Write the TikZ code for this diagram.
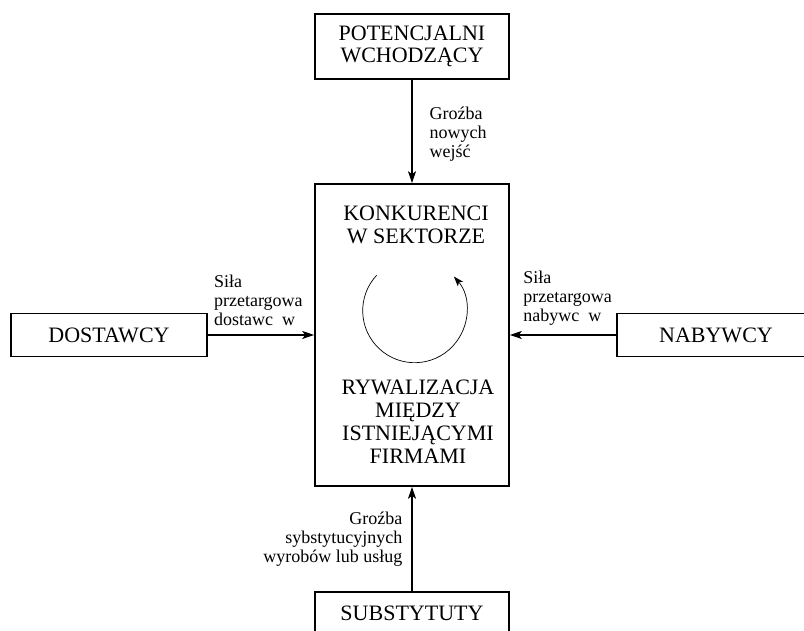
\documentclass[tikz,border=0pt]{standalone}
\usepackage{fontspec}
\setmainfont{Liberation Serif}
\usetikzlibrary{arrows.meta}

\tikzset{
  forcebox/.style={draw,line width=1.1pt,minimum width=194pt,minimum height=43pt,
    inner sep=0pt,align=center,font=\fontsize{22}{22.5}\selectfont},
  flow/.style={line width=1.1pt,-{Stealth[length=12pt,width=8pt,inset=3pt]}},
  lbl/.style={inner sep=0pt,font=\fontsize{18}{19}\selectfont}
}

\begin{document}
\begin{tikzpicture}[x=1pt,y=1pt]
  \useasboundingbox (0,0) rectangle (804,631);

  % the five forces
  \node[forcebox,minimum height=65pt] (pot) at (412,584.5) {POTENCJALNI\\WCHODZĄCY};
  \node[forcebox,minimum height=302pt,line width=1.6pt] (konk) at (412,296) {};
  \node[forcebox,minimum width=196pt] (dost) at (109,296) {DOSTAWCY};
  \node[forcebox,minimum width=198pt] (nab) at (716,296) {NABYWCY};
  \node[forcebox] (sub) at (412,17.5) {SUBSTYTUTY};

  % texts inside the centre box
  \node[align=center,inner sep=0pt,font=\fontsize{22}{22.5}\selectfont] (sektor) at (416,406)
    {KONKURENCI\\W SEKTORZE};
  \node[align=center,inner sep=0pt,font=\fontsize{22}{23}\selectfont] (rywal) at (418,209.5)
    {RYWALIZACJA\\MIĘDZY\\ISTNIEJĄCYMI\\FIRMAMI};

  % rivalry cycle
  \coordinate (cyc) at (414.7,320.3);
  \draw[line width=0.7pt,-{Stealth[length=10pt,width=7pt,inset=2.5pt]}]
    ([shift={(137:52pt)}]cyc) arc[start angle=137,end angle=401,radius=52pt];

  % forces acting on the sector
  \draw[flow] (pot) -- (konk)
    node[lbl,midway,right=17pt,align=left,yshift=-3pt] (wejscia) {Groźba\\nowych\\wejść};
  \draw[flow] (dost) -- (konk)
    node[lbl,pos=0,above right,align=left,xshift=6pt,yshift=9pt] (silaD)
    {Siła\\przetargowa\\dostawc\phantom{ó}w};
  \draw[flow] (nab) -- (konk)
    node[lbl,pos=1,above right,align=left,xshift=13pt,yshift=9pt] (silaN)
    {Siła\\przetargowa\\nabywc\phantom{ó}w};
  \draw[flow] (sub) -- (konk)
    node[lbl,midway,left=9pt,align=right] (zamienniki)
    {Groźba\\sybstytucyjnych\\wyrobów lub usług};
\end{tikzpicture}
\end{document}
